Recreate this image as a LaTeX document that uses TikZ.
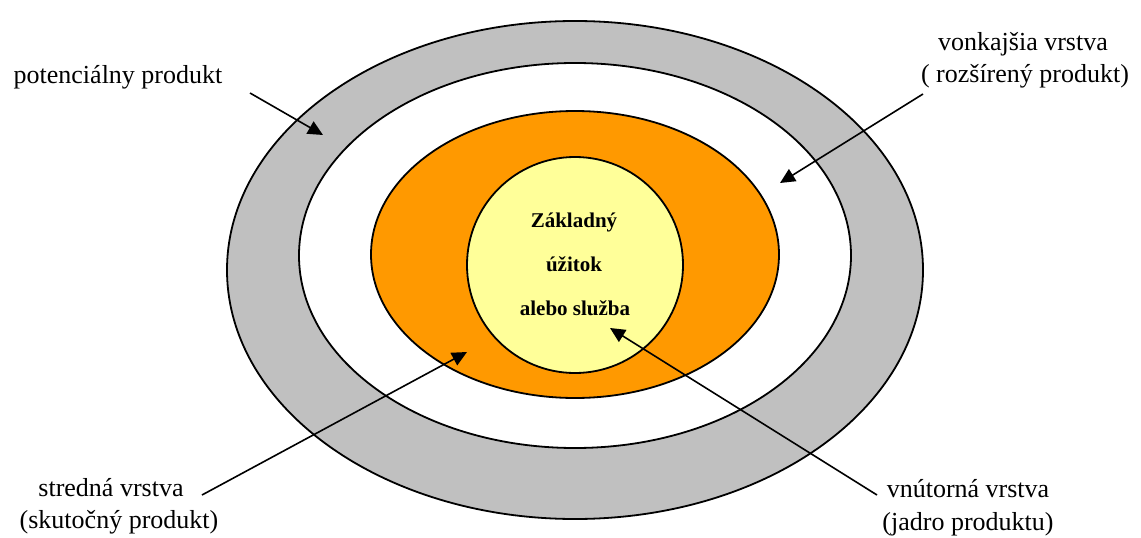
\documentclass[tikz,border=0pt]{standalone}
\usepackage{fontspec}
\setmainfont{Liberation Serif}
\usetikzlibrary{shapes.geometric,arrows.meta}
\definecolor{ringgray}{HTML}{C0C0C0}
\definecolor{midorange}{HTML}{FF9900}
\definecolor{coreyellow}{HTML}{FFFF99}
\begin{document}
\begin{tikzpicture}[x=1pt,y=-1pt,
  layer/.style={ellipse,draw=black,line width=1.8pt,inner sep=0pt},
  lbl/.style={font=\fontsize{26}{32}\selectfont,inner sep=0pt,anchor=base},
  core/.style={font=\fontsize{21}{26}\selectfont\bfseries,inner sep=0pt,anchor=base},
  pointer/.style={line width=1.6pt,-{Triangle[length=15pt,width=14pt]}}]
\useasboundingbox (0,0) rectangle (1141,538);
% layers
\node[layer,fill=ringgray,minimum width=696pt,minimum height=498pt] (outer) at (575,270) {};
\node[layer,fill=white,minimum width=552pt,minimum height=385pt] (ext) at (575,255.5) {};
\node[layer,fill=midorange,minimum width=408pt,minimum height=287pt] (mid) at (575,254.5) {};
\node[layer,fill=coreyellow,minimum width=216pt,minimum height=216pt] (core) at (575,265) {};
% core text
\node[core] (c1) at (574,227) {Základný};
\node[core] (c2) at (574,271) {úžitok};
\node[core] (c3) at (575,315) {alebo služba};
% labels
\node[lbl] (pot) at (118,83) {potenciálny produkt};
\node[lbl] (ext1) at (1023,50) {vonkajšia vrstva};
\node[lbl] (ext2) at (1025,82) {( rozšírený produkt)};
\node[lbl] (mid1) at (111,496) {stredná vrstva};
\node[lbl] (mid2) at (119,528) {(skutočný produkt)};
\node[lbl] (in1) at (968,497) {vnútorná vrstva};
\node[lbl] (in2) at (968,530) {(jadro produktu)};
% pointers
\coordinate (potS) at (250,93);  \coordinate (potT) at (323,135);
\coordinate (extS) at (923,94);  \coordinate (extT) at (780,183);
\coordinate (midS) at (202,495); \coordinate (midT) at (467,352);
\coordinate (inS) at (877,495);  \coordinate (inT) at (610,328);
\draw[pointer] (potS) -- (potT);
\draw[pointer] (extS) -- (extT);
\draw[pointer] (midS) -- (midT);
\draw[pointer] (inS) -- (inT);
\end{tikzpicture}
\end{document}
